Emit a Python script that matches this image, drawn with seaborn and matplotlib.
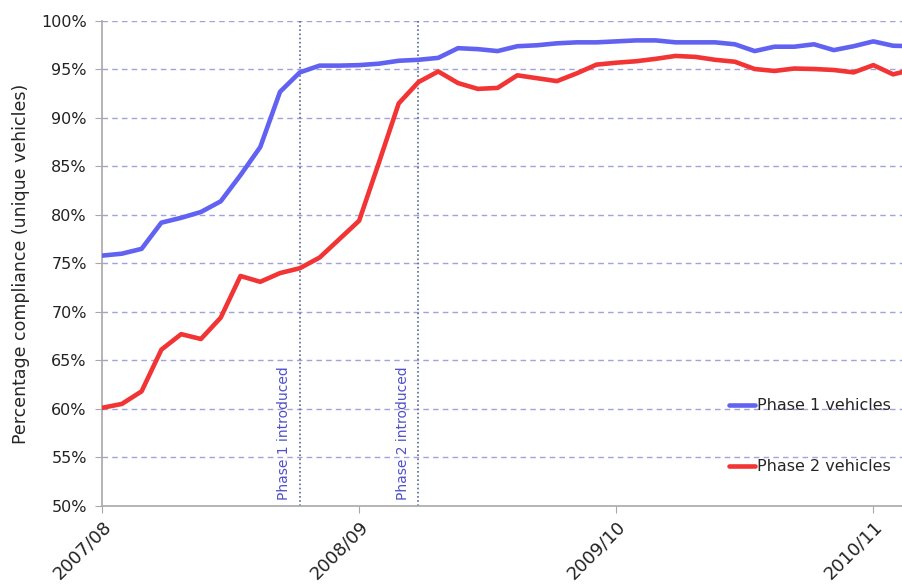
import numpy as np
import pandas as pd
import matplotlib
matplotlib.use("Agg")
import matplotlib.pyplot as plt
import seaborn as sns

# 4-weekly periods, 13 per financial year
period = list(range(42))
phase1 = [75.8, 76.0, 76.5, 79.2, 79.7, 80.3, 81.4, 84.1, 87.0, 92.7,
          94.7, 95.4, 95.4, 95.45, 95.6, 95.9, 96.0, 96.2, 97.2, 97.1,
          96.9, 97.4, 97.5, 97.7, 97.8, 97.8, 97.9, 98.0, 98.0, 97.8,
          97.8, 97.8, 97.6, 96.9, 97.35, 97.35, 97.6, 97.0, 97.4, 97.9,
          97.45, 97.4]
phase2 = [60.1, 60.5, 61.8, 66.1, 67.7, 67.2, 69.4, 73.7, 73.1, 74.0,
          74.5, 75.6, 77.5, 79.4, 85.4, 91.5, 93.7, 94.8, 93.6, 93.0,
          93.1, 94.4, 94.1, 93.8, 94.6, 95.5, 95.7, 95.85, 96.1, 96.4,
          96.3, 96.0, 95.8, 95.05, 94.85, 95.1, 95.05, 94.95, 94.7, 95.45,
          94.5, 95.0]
tick_pos = [0, 13, 26, 39]
tick_labels = ["2007/08", "2008/09", "2009/10", "2010/11"]
phase_starts = [10, 16]
phase_texts = ["Phase 1 introduced", "Phase 2 introduced"]

df = pd.DataFrame({
    "period": period * 2,
    "value": phase1 + phase2,
    "series": ["Phase 1 vehicles"] * len(period) + ["Phase 2 vehicles"] * len(period),
})

sns.set_style("white")
plt.rcParams["font.family"] = ["DejaVu Sans"]

fig, ax = plt.subplots(figsize=(9.03, 5.84), dpi=100)
fig.subplots_adjust(left=0.113, right=1.0, top=0.964, bottom=0.134)

# horizontal dashed gridlines
for y in range(55, 101, 5):
    ax.axhline(y, color="#a3a3dc", lw=1.0, ls=(0, (4, 3)), zorder=0)

sns.lineplot(data=df, x="period", y="value", hue="series",
             palette=["#6262f2", "#f23434"], lw=3.3, ax=ax, zorder=3)

for xp, txt in zip(phase_starts, phase_texts):
    ax.axvline(xp, color="#5a6a9a", lw=1.2, ls=(0, (1, 1.5)), zorder=1)
    ax.text(xp - 0.8, 50.6, txt, rotation=90, ha="center", va="bottom",
            color="#5050c8", fontsize=10)

ax.set_xlim(0, 40.5)
ax.set_ylim(50, 100)
ax.set_yticks(range(50, 101, 5))
ax.set_yticklabels([f"{v}%" for v in range(50, 101, 5)], fontsize=11.5)
ax.set_xticks(tick_pos)
ax.set_xticklabels(tick_labels, rotation=45, ha="right", rotation_mode="anchor",
                   fontsize=13)
ax.set_xlabel("")
ax.set_ylabel("Percentage compliance (unique vehicles)", fontsize=12.5,
              labelpad=8)

for s in ["top", "right"]:
    ax.spines[s].set_visible(False)
for s in ["left", "bottom"]:
    ax.spines[s].set_color("#a8a8a8")
    ax.spines[s].set_linewidth(1.2)
ax.tick_params(axis="both", which="both", length=5, color="#a8a8a8",
               direction="out", left=True, bottom=True, labelcolor="#222222")
ax.tick_params(axis="y", pad=6)

ax.legend(loc="upper left", bbox_to_anchor=(0.783, 0.222), frameon=False,
          fontsize=11.5, handlelength=1.6, handletextpad=0.15, labelspacing=2.9,
          borderpad=0, borderaxespad=0)

fig.savefig("out.png", dpi=100)
